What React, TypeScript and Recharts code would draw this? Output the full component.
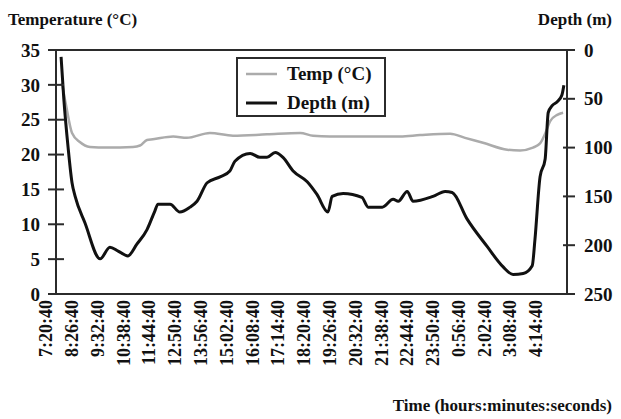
import React from 'react';
import { LineChart, Line, XAxis, YAxis, ReferenceLine } from 'recharts';

// time axis labels (every 66 min from the start of the record)
const timeLabels = [
  '7:20:40', '8:26:40', '9:32:40', '10:38:40', '11:44:40', '12:50:40', '13:56:40',
  '15:02:40', '16:08:40', '17:14:40', '18:20:40', '19:26:40', '20:32:40', '21:38:40',
  '22:44:40', '23:50:40', '0:56:40', '2:02:40', '3:08:40', '4:14:40',
];

// minutes after 7:20:40
const depthMinutes = [
  13, 20, 31, 41, 49, 74, 113, 138, 159, 184, 207, 233, 253, 261, 292, 317, 343, 361, 387, 420,
  445, 458, 497, 522, 540, 561, 581, 607, 643, 668, 696, 707, 735, 783, 799, 835, 863, 876, 899, 914,
  965, 996, 1014, 1052, 1103, 1144, 1170, 1196, 1219, 1226, 1239, 1252, 1260, 1270, 1283, 1295, 1300,
];
const depthValues = [
  7, 50, 100, 136, 150, 177, 214, 202, 206, 211, 199, 184, 165, 158, 158, 166, 161, 155, 136, 130,
  124, 114, 106, 110, 110, 105, 110, 124, 135, 148, 166, 150, 147, 151, 161, 161, 153, 155, 145, 155,
  150, 145, 146, 173, 201, 222, 230, 229, 221, 194, 130, 112, 64, 57, 53, 46, 36,
];

const tempMinutes = [
  15, 26, 41, 61, 87, 131, 197, 215, 233, 248, 300, 335, 394, 453, 540, 625, 658, 701, 796, 881,
  932, 1009, 1047, 1093, 1155, 1188, 1221, 1239, 1252, 1265, 1283, 1298,
];
const tempValues = [
  30.3, 27, 23.1, 21.8, 21.1, 21.0, 21.1, 21.3, 22.1, 22.2, 22.6, 22.4, 23.1, 22.7, 22.9, 23.1,
  22.7, 22.6, 22.6, 22.6, 22.8, 23.0, 22.4, 21.7, 20.7, 20.6, 21.0, 21.6, 23, 24.8, 25.7, 26,
];

const tempTicks = [0, 5, 10, 15, 20, 25, 30, 35];
const depthTicks = [0, 50, 100, 150, 200, 250];
const END_MINUTES = 1308;

const toMinutes = (s: string) => {
  const [h, m, sec] = s.split(':').map(Number);
  let v = h * 60 + m + sec / 60 - (7 * 60 + 20 + 40 / 60);
  if (v < 0) v += 1440;
  return Math.round(v);
};
const tickMinutes = timeLabels.map(toMinutes);

const depthData = depthMinutes.map((t, i) => ({ t, depth: depthValues[i] }));
const tempData = tempMinutes.map((t, i) => ({ t, temp: tempValues[i] }));

const FONT = '"Liberation Serif", "Times New Roman", serif';
const AXIS = '#2b2b2b';

const TimeTick = (props: any) => {
  const { x, y, payload } = props;
  const idx = tickMinutes.indexOf(payload.value);
  return (
    <g transform={`translate(${x - 10},${y})`}>
      <text transform="rotate(-90)" textAnchor="end" dy="0.35em" fontSize={18}
        fontWeight="bold" fontFamily={FONT} fill="#111">
        {idx >= 0 ? timeLabels[idx] : ''}
      </text>
    </g>
  );
};

const LeftTick = (props: any) => {
  const { x, y, payload } = props;
  return (
    <g>
      <line x1={x - 8} x2={x + 8} y1={y} y2={y} stroke={AXIS} strokeWidth={2} />
      <text x={x - 16} y={y} dy="0.35em" textAnchor="end" fontSize={19}
        fontWeight="bold" fontFamily={FONT} fill="#111">{payload.value}</text>
    </g>
  );
};

const RightTick = (props: any) => {
  const { x, y, payload } = props;
  return (
    <g>
      <line x1={x - 4} x2={x + 8} y1={y} y2={y} stroke={AXIS} strokeWidth={2} />
      <text x={x + 17} y={y} dy="0.35em" textAnchor="start" fontSize={19}
        fontWeight="bold" fontFamily={FONT} fill="#111">{payload.value}</text>
    </g>
  );
};

const textStyle: React.CSSProperties = {
  position: 'absolute', fontFamily: FONT, fontWeight: 'bold', color: '#111', whiteSpace: 'nowrap',
};

export default function App() {
  return (
    <div style={{ position: 'absolute', left: 0, top: 0, width: 621, height: 419, background: '#fff' }}>
      <LineChart width={621} height={419} margin={{ top: 50, right: 0, bottom: 0, left: 0 }}>
        <XAxis dataKey="t" type="number" domain={[0, END_MINUTES]} ticks={tickMinutes}
          allowDataOverflow tick={<TimeTick />} tickLine={false} tickSize={0} tickMargin={6}
          height={125} axisLine={{ stroke: AXIS, strokeWidth: 2 }} interval={0} />
        <YAxis yAxisId="temp" domain={[0, 35]} ticks={tempTicks} width={56}
          tick={<LeftTick />} tickLine={false} tickSize={0} tickMargin={0}
          axisLine={{ stroke: AXIS, strokeWidth: 2 }} interval={0} />
        <YAxis yAxisId="depth" orientation="right" reversed domain={[0, 250]} ticks={depthTicks}
          width={54} tick={<RightTick />} tickLine={false} tickSize={0} tickMargin={0}
          axisLine={{ stroke: AXIS, strokeWidth: 2 }} interval={0} />
        <ReferenceLine yAxisId="temp" y={35} stroke={AXIS} strokeWidth={2} />
        <Line yAxisId="temp" data={tempData} dataKey="temp" type="monotone" stroke="#ababab"
          strokeWidth={2.5} dot={false} isAnimationActive={false} />
        <Line yAxisId="depth" data={depthData} dataKey="depth" type="monotone" stroke="#111"
          strokeWidth={3} dot={false} isAnimationActive={false} />
      </LineChart>

      <div style={{ ...textStyle, left: 8, top: 10, fontSize: 17 }}>Temperature (°C)</div>
      <div style={{ ...textStyle, right: 9, top: 10, fontSize: 17 }}>Depth (m)</div>
      <div style={{ ...textStyle, right: 9, top: 396, fontSize: 17 }}>Time (hours:minutes:seconds)</div>

      <div style={{
        position: 'absolute', left: 236, top: 57, width: 146, height: 56,
        border: `2px solid ${AXIS}`, background: '#fff',
      }}>
        {[{ label: 'Temp (°C)', color: '#ababab', w: 2.5, y: 15 }, { label: 'Depth (m)', color: '#111', w: 3, y: 44 }]
          .map((e) => (
            <div key={e.label} style={{ position: 'absolute', left: 0, top: e.y - 12, height: 24, width: 146 }}>
              <svg width={40} height={24} style={{ position: 'absolute', left: 6, top: 0 }}>
                <line x1={2} x2={33} y1={12} y2={12} stroke={e.color} strokeWidth={e.w} />
              </svg>
              <span style={{ ...textStyle, left: 49, top: 1, fontSize: 19, lineHeight: '22px' }}>{e.label}</span>
            </div>
          ))}
      </div>
    </div>
  );
}
